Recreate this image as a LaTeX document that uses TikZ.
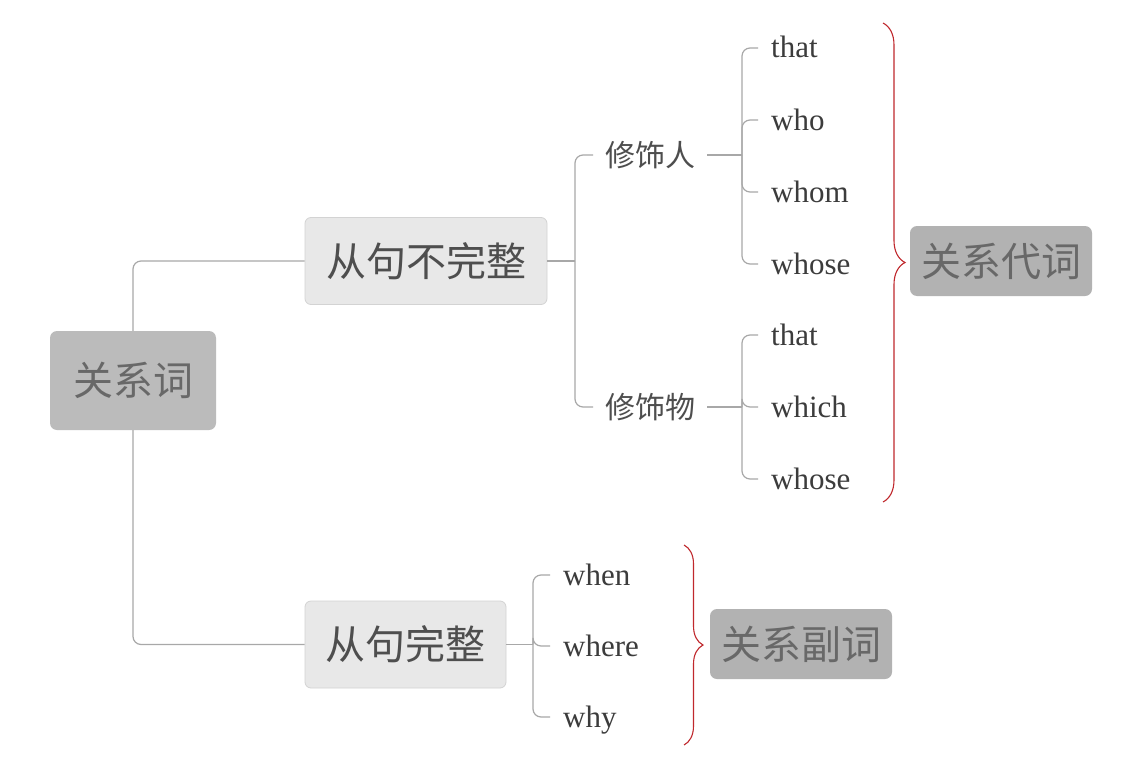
\documentclass[tikz,border=0pt]{standalone}
\usepackage{fontspec}
\setmainfont{Liberation Serif}
\newfontfamily\cjk{Noto Sans CJK SC}
\usetikzlibrary{decorations.pathreplacing}
\definecolor{linegray}{HTML}{A8A8A8}
\definecolor{rootfill}{HTML}{BBBBBB}
\definecolor{roottext}{HTML}{686868}
\definecolor{midfill}{HTML}{E8E8E8}
\definecolor{midborder}{HTML}{D3D3D3}
\definecolor{midtext}{HTML}{4E4E4E}
\definecolor{wordtext}{HTML}{3C3C3C}
\definecolor{bracered}{HTML}{C0282D}
\begin{document}
\begin{tikzpicture}[x=1pt,y=-1pt,
  conn/.style={draw=linegray,line width=1.2pt,rounded corners=8pt},
  darkbox/.style={fill=rootfill,rounded corners=7pt,text=roottext,
    font=\cjk\fontsize{40}{48}\selectfont,inner sep=0pt},
  lightbox/.style={fill=midfill,draw=midborder,line width=0.8pt,rounded corners=6pt,
    text=midtext,font=\cjk\fontsize{40}{48}\selectfont,inner sep=0pt,
    minimum height=87pt},
  subnode/.style={anchor=west,inner xsep=12pt,inner ysep=0pt,text=midtext,
    font=\cjk\fontsize{30}{36}\selectfont,text height=25pt,text depth=2pt},
  word/.style={anchor=west,inner xsep=13pt,inner ysep=0pt,text=wordtext,
    font=\fontsize{31}{36}\selectfont,text height=20pt,text depth=0pt},
  bracestyle/.style={draw=bracered,line width=1.1pt,decorate,
    decoration={brace,amplitude=#1}}
]
\useasboundingbox[fill=white] (0,0) rectangle (1127,760);

% main nodes
\node[darkbox,minimum width=166pt,minimum height=99pt] (root) at (133,380.5) {关系词};
\node[lightbox,minimum width=242pt] (A) at (426,261) {从句不完整};
\node[lightbox,minimum width=201pt] (B) at (405.5,644.5) {从句完整};

% second level
\node[subnode] (p1) at (593,155) {修饰人};
\node[subnode] (p2) at (593,407) {修饰物};

% words
\node[word] (w1) at (758,48) {that};
\node[word] (w2) at (758,120) {who};
\node[word] (w3) at (758,192) {whom};
\node[word] (w4) at (758,264) {whose};
\node[word] (w5) at (758,335) {that};
\node[word] (w6) at (758,407) {which};
\node[word] (w7) at (758,479) {whose};
\node[word] (v1) at (550,575) {when};
\node[word] (v2) at (550,646) {where};
\node[word] (v3) at (550,717) {why};

% labels
\node[darkbox,fill=rootfill!95!black,minimum width=182pt,minimum height=70pt] (pron) at (1001,261) {关系代词};
\node[darkbox,fill=rootfill!95!black,minimum width=182pt,minimum height=70pt] (adv) at (801,644) {关系副词};

% junctions
\coordinate (ja) at (575,261);
\coordinate (jp1) at (742,155);
\coordinate (jp2) at (742,407);
\coordinate (jb) at (533,644.5);

% connectors
\draw[conn] (root.north) |- (A.west);
\draw[conn] (root.south) |- (B.west);
\draw[conn] (A.east) -- (ja);
\draw[conn] (ja) |- (p1.west);
\draw[conn] (ja) |- (p2.west);
\draw[conn] (p1.east) -- (jp1);
\draw[conn] (p2.east) -- (jp2);
\foreach \w in {w1,w2,w3,w4} \draw[conn] (jp1) |- (\w.west);
\foreach \w in {w5,w6,w7} \draw[conn] (jp2) |- (\w.west);
\draw[conn] (B.east) -- (jb);
\foreach \w in {v1,v2,v3} \draw[conn] (jb) |- (\w.west);

% braces
\coordinate (b1t) at (883,23);
\coordinate (b1b) at (883,502);
\coordinate (b2t) at (684,545);
\coordinate (b2b) at (684,745);
\draw[bracestyle=22pt] (b1t) -- (b1b);
\draw[bracestyle=19pt] (b2t) -- (b2b);
\end{tikzpicture}
\end{document}
